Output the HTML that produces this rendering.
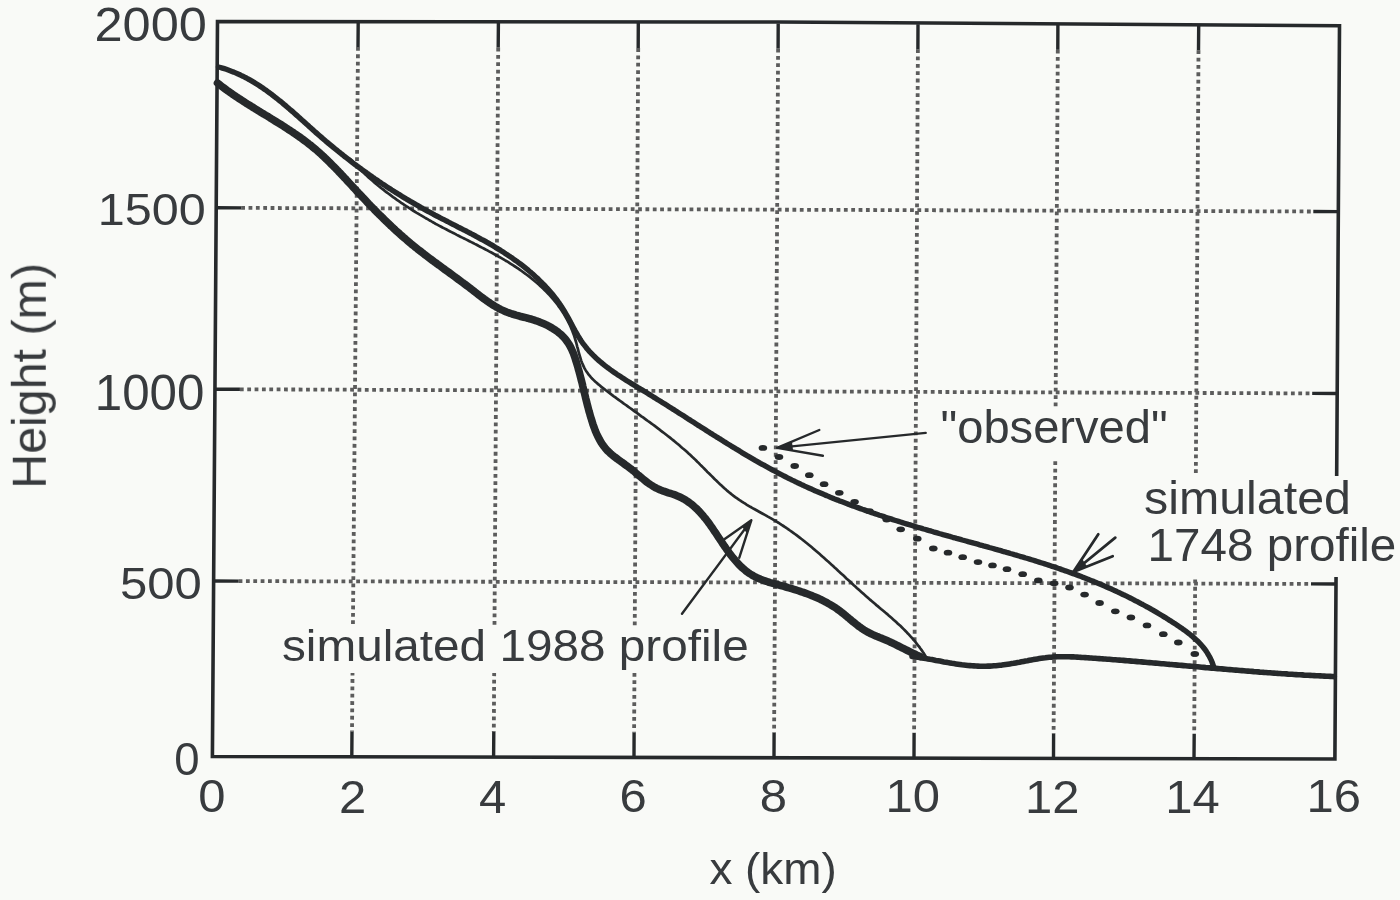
<!DOCTYPE html>
<html><head><meta charset="utf-8"><title>Height profile</title>
<style>html,body{margin:0;padding:0;background:#f9faf7;} svg{display:block;}</style></head>
<body><svg width="1400" height="900" viewBox="0 0 1400 900">
<rect width="1400" height="900" fill="#f9faf7"/>
<g filter="url(#soft)">
<path d="M358.0,47.0L352.0,731.8 M498.2,47.6L493.8,732.1 M638.2,48.1L634.1,732.4 M778.1,48.6L774.1,732.8 M917.9,49.2L914.1,733.1 M1057.8,49.7L1053.6,733.4 M1198.5,50.3L1194.2,733.7 M241.2,207.9L1313.3,211.5 M239.9,389.3L1312.2,393.4 M238.6,581.1L1311.0,583.9" fill="none" stroke="#5c5c5c" stroke-width="3.8" stroke-dasharray="3.8 3.55"/><path d="M358.2,22.0L358.0,47.0M351.8,756.8L352.0,731.8 M498.4,22.6L498.2,47.6M493.6,757.1L493.8,732.1 M638.3,23.1L638.2,48.1M634.0,757.4L634.1,732.4 M778.2,23.6L778.1,48.6M774.0,757.8L774.1,732.8 M918.0,24.2L917.9,49.2M914.0,758.1L914.1,733.1 M1057.9,24.7L1057.8,49.7M1053.5,758.4L1053.6,733.4 M1198.7,25.3L1198.5,50.3M1194.0,758.7L1194.2,733.7 M216.2,207.8L241.2,207.9M1338.3,211.6L1313.3,211.5 M214.9,389.2L239.9,389.3M1337.2,393.5L1312.2,393.4 M213.6,581.0L238.6,581.1M1336.0,584.0L1311.0,583.9" fill="none" stroke="#26292b" stroke-width="3.4"/><path d="M217.5,21.5 L778.2,22 L1339.5,25.8 L1334.9,759.0 L212.4,756.5 Z" fill="none" stroke="#26292b" stroke-width="3.6" stroke-linejoin="miter"/><path d="M350.0,159.0L351.4,160.5L352.7,161.9L354.1,163.4L355.5,164.8L356.9,166.2L358.3,167.6L359.7,169.0L361.1,170.4L362.5,171.8L364.0,173.1L365.4,174.5L366.9,175.8L368.3,177.2L369.8,178.5L371.3,179.8L372.8,181.1L374.3,182.4L375.8,183.7L377.4,184.9L378.9,186.2L380.4,187.4L382.0,188.7L383.6,189.9L385.1,191.1L386.7,192.3L388.3,193.5L389.9,194.7L391.5,195.9L393.1,197.1L394.7,198.2L396.3,199.4L398.0,200.5L399.6,201.7L401.2,202.8L402.9,203.9L404.6,205.0L406.2,206.1L407.9,207.2L409.6,208.3L411.3,209.4L412.9,210.5L414.6,211.5L416.3,212.6L418.1,213.6L419.8,214.7L421.5,215.7L423.2,216.7L424.9,217.7L426.7,218.7L428.4,219.7L430.2,220.7L431.9,221.7L433.7,222.7L435.4,223.7L437.2,224.6L439.0,225.6L440.7,226.5L442.5,227.5L444.3,228.4L446.1,229.3L447.9,230.3L449.7,231.2L451.5,232.1L453.3,233.0L455.1,233.9L456.8,234.9L458.6,235.8L460.4,236.7L462.3,237.6L464.1,238.5L465.9,239.4L467.7,240.3L469.5,241.2L471.3,242.1L473.1,243.0L474.8,243.9L476.6,244.8L478.4,245.8L480.2,246.7L482.0,247.6L483.8,248.5L485.6,249.5L487.4,250.4L489.1,251.4L490.9,252.3L492.7,253.3L494.4,254.2L496.2,255.2L497.9,256.2L499.7,257.2L501.4,258.2L503.1,259.2L504.8,260.2L506.6,261.2L508.3,262.2L510.0,263.3L511.7,264.4L513.3,265.4L515.0,266.5L516.7,267.6L518.3,268.7L520.0,269.9L521.6,271.0L523.2,272.2L524.8,273.3L526.4,274.5L528.0,275.7L529.6,276.9L531.2,278.2L532.7,279.4L534.3,280.7L535.8,282.0L537.3,283.2L538.8,284.6L540.2,285.9L541.7,287.2L543.1,288.6L544.5,290.0L545.9,291.4L547.3,292.8L548.7,294.2L550.0,295.7L551.3,297.2L552.6,298.7L553.9,300.2L555.1,301.7L556.4,303.2L557.6,304.8L558.7,306.4L559.9,308.0L561.0,309.6L562.1,311.3L563.2,312.9L564.2,314.6L565.2,316.3L566.2,318.1L567.2,319.8L568.1,321.6L569.0,323.4L569.9,325.2L570.7,327.0L571.5,328.9L572.3,330.8L573.0,332.7L573.7,334.6L574.4,336.5L575.0,338.5L575.6,340.5L576.2,342.5L576.7,344.5L577.2,346.6L577.8,348.6L578.3,350.6L578.8,352.7L579.4,354.7L580.0,356.7L580.6,358.6L581.2,360.6L581.9,362.5L582.7,364.3L583.5,366.1L584.3,367.9L585.3,369.6L586.3,371.2L587.4,372.8L588.5,374.4L589.8,375.9L591.0,377.3L592.3,378.7L593.7,380.1L595.1,381.5L596.6,382.8L598.1,384.1L599.6,385.3L601.1,386.6L602.7,387.8L604.3,389.0L605.8,390.3L607.4,391.5L609.0,392.7L610.6,393.9L612.2,395.1L613.8,396.3L615.4,397.4L617.0,398.6L618.7,399.8L620.3,401.0L621.9,402.2L623.5,403.4L625.1,404.5L626.8,405.7L628.4,406.9L630.0,408.0L631.7,409.2L633.3,410.4L634.9,411.6L636.5,412.7L638.2,413.9L639.8,415.1L641.4,416.3L643.1,417.4L644.7,418.6L646.3,419.8L647.9,421.0L649.6,422.2L651.2,423.3L652.8,424.5L654.4,425.7L656.0,426.9L657.6,428.1L659.2,429.3L660.8,430.6L662.4,431.8L664.0,433.0L665.6,434.2L667.2,435.5L668.7,436.7L670.3,437.9L671.9,439.2L673.4,440.4L675.0,441.7L676.5,443.0L678.1,444.3L679.6,445.6L681.1,446.9L682.6,448.2L684.2,449.5L685.7,450.8L687.1,452.1L688.6,453.5L690.1,454.8L691.6,456.2L693.0,457.6L694.5,458.9L695.9,460.3L697.3,461.7L698.8,463.1L700.2,464.6L701.6,466.0L703.0,467.4L704.4,468.8L705.8,470.2L707.2,471.7L708.6,473.1L710.1,474.5L711.5,475.9L712.9,477.3L714.3,478.7L715.7,480.1L717.2,481.5L718.6,482.9L720.0,484.3L721.5,485.6L723.0,487.0L724.4,488.3L725.9,489.6L727.4,490.9L729.0,492.2L730.5,493.4L732.1,494.7L733.6,495.9L735.2,497.1L736.8,498.2L738.5,499.4L740.1,500.5L741.8,501.6L743.5,502.7L745.2,503.7L746.9,504.8L748.6,505.8L750.3,506.8L752.1,507.8L753.8,508.8L755.6,509.8L757.4,510.8L759.1,511.7L760.9,512.7L762.7,513.7L764.4,514.6L766.2,515.6L767.9,516.6L769.7,517.6L771.5,518.6L773.2,519.6L774.9,520.6L776.6,521.7L778.4,522.7L780.1,523.8L781.7,524.9L783.4,526.0L785.1,527.1L786.7,528.2L788.4,529.3L790.0,530.5L791.6,531.6L793.3,532.8L794.9,534.0L796.5,535.2L798.1,536.4L799.7,537.6L801.2,538.8L802.8,540.0L804.4,541.3L805.9,542.5L807.5,543.8L809.0,545.0L810.6,546.3L812.1,547.6L813.6,548.9L815.2,550.2L816.7,551.5L818.2,552.8L819.7,554.1L821.2,555.4L822.7,556.8L824.2,558.1L825.7,559.4L827.2,560.8L828.7,562.1L830.2,563.4L831.6,564.8L833.1,566.1L834.6,567.5L836.1,568.8L837.6,570.2L839.0,571.6L840.5,572.9L842.0,574.3L843.5,575.6L845.0,577.0L846.4,578.4L847.9,579.7L849.4,581.1L850.9,582.5L852.3,583.8L853.8,585.2L855.3,586.5L856.8,587.9L858.3,589.2L859.8,590.6L861.3,591.9L862.8,593.2L864.3,594.6L865.8,595.9L867.3,597.2L868.8,598.6L870.3,599.9L871.9,601.2L873.4,602.5L874.9,603.8L876.4,605.1L878.0,606.4L879.5,607.7L881.0,609.0L882.6,610.3L884.1,611.5L885.6,612.8L887.2,614.1L888.7,615.5L890.2,616.8L891.7,618.1L893.2,619.4L894.7,620.7L896.2,622.1L897.6,623.4L899.1,624.8L900.6,626.1L902.0,627.5L903.4,628.9L904.8,630.3L906.2,631.7L907.6,633.2L909.0,634.6L910.3,636.1L911.7,637.6L913.0,639.1L914.3,640.6L915.6,642.1L916.8,643.7L918.0,645.3L919.3,646.9L920.4,648.5L921.6,650.1L922.7,651.8L923.9,653.5L924.9,655.2L926.0,657.0" fill="none" stroke="#26292b" stroke-width="2.7" stroke-linecap="round"/><path d="M217.5,83.0L219.1,84.2L220.6,85.5L222.2,86.7L223.8,87.9L225.4,89.1L227.0,90.3L228.6,91.4L230.3,92.6L231.9,93.7L233.5,94.9L235.2,96.0L236.9,97.1L238.5,98.2L240.2,99.3L241.9,100.4L243.6,101.5L245.3,102.6L247.0,103.7L248.7,104.7L250.4,105.8L252.1,106.9L253.8,107.9L255.5,109.0L257.2,110.0L258.9,111.1L260.7,112.2L262.4,113.2L264.1,114.3L265.8,115.3L267.6,116.3L269.3,117.4L271.0,118.5L272.7,119.5L274.4,120.6L276.1,121.6L277.9,122.7L279.6,123.7L281.3,124.8L283.0,125.9L284.7,127.0L286.4,128.1L288.0,129.2L289.7,130.3L291.4,131.4L293.1,132.5L294.7,133.6L296.4,134.7L298.0,135.9L299.6,137.0L301.3,138.2L302.9,139.4L304.5,140.6L306.1,141.8L307.7,143.0L309.2,144.2L310.8,145.4L312.3,146.7L313.9,148.0L315.4,149.2L316.9,150.5L318.4,151.8L319.9,153.2L321.4,154.5L322.8,155.9L324.3,157.2L325.7,158.6L327.2,160.0L328.6,161.4L330.0,162.8L331.4,164.2L332.8,165.6L334.2,167.0L335.6,168.4L337.0,169.9L338.4,171.3L339.8,172.8L341.2,174.2L342.5,175.7L343.9,177.2L345.3,178.6L346.6,180.1L348.0,181.6L349.3,183.0L350.7,184.5L352.1,186.0L353.4,187.5L354.8,188.9L356.2,190.4L357.5,191.9L358.9,193.4L360.3,194.8L361.6,196.3L363.0,197.7L364.4,199.2L365.8,200.7L367.1,202.1L368.5,203.6L369.9,205.0L371.3,206.5L372.7,207.9L374.1,209.3L375.5,210.8L376.9,212.2L378.3,213.6L379.7,215.0L381.2,216.4L382.6,217.8L384.0,219.2L385.4,220.6L386.9,222.0L388.3,223.4L389.8,224.8L391.2,226.2L392.7,227.5L394.1,228.9L395.6,230.3L397.1,231.6L398.6,232.9L400.1,234.3L401.6,235.6L403.0,236.9L404.6,238.2L406.1,239.5L407.6,240.8L409.1,242.1L410.6,243.4L412.2,244.7L413.7,245.9L415.3,247.2L416.8,248.4L418.4,249.7L420.0,250.9L421.6,252.1L423.1,253.3L424.7,254.6L426.3,255.8L427.9,257.0L429.5,258.2L431.1,259.4L432.7,260.6L434.3,261.8L435.9,262.9L437.5,264.1L439.2,265.3L440.8,266.5L442.4,267.7L444.0,268.9L445.6,270.1L447.3,271.2L448.9,272.4L450.5,273.6L452.1,274.8L453.7,276.0L455.4,277.2L457.0,278.4L458.6,279.6L460.2,280.8L461.8,282.0L463.5,283.2L465.1,284.4L466.7,285.6L468.3,286.8L469.9,288.0L471.5,289.3L473.1,290.5L474.7,291.8L476.3,293.0L477.9,294.2L479.5,295.5L481.1,296.7L482.7,297.9L484.3,299.1L485.9,300.2L487.5,301.4L489.2,302.5L490.8,303.6L492.5,304.7L494.2,305.8L495.9,306.8L497.6,307.7L499.3,308.7L501.1,309.6L502.9,310.4L504.7,311.2L506.5,312.0L508.4,312.7L510.2,313.3L512.1,314.0L514.0,314.5L516.0,315.1L517.9,315.6L519.8,316.2L521.8,316.7L523.8,317.2L525.7,317.7L527.7,318.2L529.7,318.8L531.7,319.3L533.6,319.9L535.6,320.6L537.5,321.2L539.4,321.9L541.3,322.7L543.2,323.5L545.1,324.3L546.9,325.2L548.7,326.1L550.5,327.1L552.2,328.1L553.9,329.2L555.6,330.3L557.2,331.4L558.7,332.7L560.2,333.9L561.7,335.2L563.1,336.6L564.4,338.0L565.7,339.5L566.8,341.1L568.0,342.7L569.0,344.3L570.0,346.0L570.9,347.8L571.8,349.6L572.6,351.5L573.4,353.3L574.1,355.2L574.8,357.2L575.4,359.1L576.0,361.0L576.6,363.0L577.2,364.9L577.8,366.9L578.3,368.8L578.9,370.8L579.4,372.7L579.9,374.7L580.4,376.6L580.9,378.5L581.4,380.5L581.9,382.4L582.4,384.4L582.8,386.3L583.3,388.3L583.8,390.2L584.2,392.1L584.7,394.1L585.2,396.0L585.6,397.9L586.1,399.9L586.6,401.8L587.1,403.8L587.6,405.7L588.1,407.6L588.6,409.6L589.1,411.5L589.7,413.4L590.2,415.4L590.8,417.3L591.4,419.2L592.0,421.2L592.6,423.1L593.2,425.0L593.9,426.9L594.6,428.8L595.3,430.7L596.1,432.6L596.9,434.4L597.8,436.2L598.7,438.0L599.6,439.8L600.6,441.5L601.6,443.2L602.7,444.8L603.9,446.4L605.1,447.9L606.4,449.4L607.7,450.9L609.2,452.3L610.6,453.6L612.1,454.9L613.7,456.2L615.3,457.4L616.9,458.6L618.5,459.8L620.2,461.0L621.8,462.2L623.5,463.4L625.1,464.6L626.8,465.8L628.4,467.0L630.0,468.2L631.6,469.4L633.2,470.7L634.7,472.0L636.2,473.3L637.7,474.6L639.2,475.8L640.8,477.1L642.3,478.4L643.8,479.6L645.3,480.9L646.9,482.1L648.4,483.2L650.1,484.4L651.7,485.4L653.4,486.5L655.1,487.5L656.9,488.4L658.7,489.2L660.5,490.0L662.5,490.8L664.4,491.4L666.4,492.1L668.4,492.8L670.4,493.4L672.3,494.0L674.3,494.7L676.2,495.4L678.1,496.2L679.9,497.0L681.7,497.9L683.4,498.8L685.1,499.8L686.8,500.9L688.4,502.0L690.0,503.1L691.5,504.3L693.0,505.5L694.4,506.8L695.9,508.1L697.3,509.4L698.6,510.8L700.0,512.2L701.3,513.7L702.6,515.2L703.8,516.7L705.1,518.2L706.3,519.7L707.5,521.3L708.7,522.9L709.9,524.5L711.0,526.2L712.2,527.8L713.3,529.5L714.4,531.2L715.6,532.8L716.7,534.5L717.8,536.2L718.9,537.9L720.1,539.6L721.2,541.3L722.3,543.0L723.5,544.7L724.6,546.4L725.8,548.0L726.9,549.7L728.1,551.3L729.3,553.0L730.5,554.6L731.7,556.2L733.0,557.8L734.3,559.3L735.6,560.8L736.9,562.3L738.2,563.8L739.6,565.2L741.0,566.6L742.4,567.9L743.9,569.2L745.4,570.5L746.9,571.7L748.5,572.8L750.1,573.9L751.7,574.9L753.4,575.9L755.2,576.8L756.9,577.7L758.8,578.5L760.6,579.3L762.5,580.0L764.4,580.7L766.3,581.3L768.2,582.0L770.2,582.6L772.1,583.1L774.1,583.7L776.1,584.3L778.1,584.8L780.0,585.3L782.0,585.9L784.0,586.4L786.0,587.0L787.9,587.6L789.9,588.1L791.8,588.7L793.8,589.3L795.7,589.9L797.6,590.5L799.5,591.1L801.5,591.8L803.4,592.4L805.2,593.1L807.1,593.8L809.0,594.5L810.9,595.2L812.7,596.0L814.5,596.7L816.4,597.5L818.2,598.3L820.0,599.1L821.8,600.0L823.5,600.9L825.3,601.8L827.0,602.7L828.7,603.7L830.5,604.7L832.1,605.7L833.8,606.8L835.5,607.8L837.1,609.0L838.7,610.1L840.3,611.3L841.9,612.6L843.5,613.8L845.1,615.1L846.6,616.4L848.2,617.7L849.7,619.0L851.3,620.3L852.8,621.6L854.4,622.8L856.0,624.1L857.6,625.4L859.2,626.6L860.8,627.7L862.4,628.9L864.1,630.0L865.8,631.0L867.5,632.0L869.3,632.9L871.0,633.8L872.8,634.6L874.7,635.4L876.5,636.2L878.3,636.9L880.2,637.7L882.0,638.4L883.9,639.2L885.7,640.0L887.6,640.8L889.4,641.6L891.2,642.5L893.0,643.3L894.8,644.2L896.6,645.1L898.4,646.0L900.2,646.9L902.0,647.8L903.8,648.7L905.6,649.6L907.4,650.5L909.2,651.4L911.0,652.3L912.8,653.2L914.6,654.0L916.4,654.9L918.2,655.7L920.0,656.5" fill="none" stroke="#26292b" stroke-width="7.6" stroke-linecap="round" stroke-linejoin="round"/><path d="M218.5,67.0L220.5,67.5L222.4,68.1L224.4,68.7L226.3,69.3L228.2,70.0L230.1,70.7L231.9,71.4L233.8,72.1L235.6,72.9L237.5,73.7L239.3,74.5L241.1,75.4L242.8,76.2L244.6,77.1L246.4,78.0L248.1,79.0L249.8,79.9L251.5,80.9L253.2,81.9L254.9,82.9L256.6,84.0L258.3,85.1L259.9,86.1L261.6,87.2L263.2,88.3L264.8,89.5L266.5,90.6L268.1,91.8L269.7,93.0L271.3,94.1L272.8,95.3L274.4,96.6L276.0,97.8L277.5,99.0L279.1,100.3L280.7,101.5L282.2,102.8L283.7,104.1L285.3,105.4L286.8,106.7L288.3,108.0L289.8,109.3L291.4,110.6L292.9,111.9L294.4,113.3L295.9,114.6L297.4,115.9L298.9,117.3L300.4,118.6L301.9,120.0L303.4,121.3L304.9,122.6L306.4,124.0L307.9,125.3L309.4,126.7L310.9,128.0L312.4,129.4L313.9,130.7L315.4,132.1L316.9,133.4L318.4,134.7L319.9,136.0L321.5,137.4L323.0,138.7L324.5,140.0L326.0,141.3L327.6,142.6L329.1,143.9L330.6,145.1L332.2,146.4L333.7,147.7L335.3,149.0L336.8,150.2L338.4,151.5L339.9,152.7L341.5,154.0L343.1,155.2L344.6,156.5L346.2,157.7L347.8,158.9L349.4,160.1L351.0,161.4L352.5,162.6L354.1,163.8L355.7,165.0L357.3,166.2L358.9,167.3L360.5,168.5L362.1,169.7L363.8,170.9L365.4,172.0L367.0,173.2L368.6,174.3L370.2,175.5L371.9,176.6L373.5,177.8L375.1,178.9L376.8,180.0L378.4,181.2L380.1,182.3L381.7,183.4L383.4,184.5L385.1,185.6L386.7,186.7L388.4,187.8L390.1,188.8L391.7,189.9L393.4,191.0L395.1,192.1L396.8,193.1L398.5,194.2L400.2,195.2L401.9,196.3L403.6,197.3L405.3,198.3L407.0,199.4L408.7,200.4L410.4,201.4L412.2,202.4L413.9,203.4L415.6,204.4L417.4,205.4L419.1,206.4L420.8,207.4L422.6,208.4L424.3,209.3L426.1,210.3L427.9,211.3L429.6,212.2L431.4,213.2L433.2,214.1L434.9,215.1L436.7,216.0L438.5,216.9L440.3,217.9L442.1,218.8L443.9,219.7L445.7,220.6L447.5,221.5L449.3,222.5L451.0,223.4L452.8,224.3L454.6,225.2L456.4,226.1L458.2,227.1L460.0,228.0L461.8,228.9L463.6,229.8L465.4,230.7L467.2,231.7L469.0,232.6L470.8,233.5L472.6,234.5L474.4,235.4L476.1,236.4L477.9,237.3L479.7,238.3L481.4,239.3L483.2,240.2L485.0,241.2L486.7,242.2L488.5,243.2L490.2,244.2L492.0,245.2L493.7,246.2L495.4,247.3L497.1,248.3L498.9,249.4L500.6,250.4L502.3,251.5L504.0,252.6L505.6,253.7L507.3,254.8L509.0,255.9L510.6,257.0L512.3,258.1L513.9,259.3L515.5,260.5L517.2,261.6L518.8,262.8L520.4,264.0L522.0,265.2L523.5,266.4L525.1,267.7L526.6,268.9L528.2,270.2L529.7,271.5L531.2,272.7L532.7,274.0L534.2,275.4L535.6,276.7L537.1,278.0L538.5,279.4L539.9,280.8L541.3,282.2L542.7,283.6L544.1,285.0L545.5,286.4L546.8,287.9L548.1,289.3L549.4,290.8L550.7,292.3L552.0,293.8L553.2,295.3L554.5,296.9L555.7,298.5L556.9,300.0L558.0,301.6L559.2,303.2L560.3,304.9L561.4,306.5L562.5,308.2L563.6,309.9L564.6,311.6L565.6,313.3L566.6,315.0L567.6,316.8L568.6,318.6L569.5,320.3L570.5,322.1L571.4,323.9L572.4,325.7L573.3,327.4L574.3,329.2L575.2,331.0L576.2,332.7L577.2,334.4L578.2,336.2L579.3,337.8L580.3,339.5L581.4,341.2L582.5,342.8L583.7,344.4L584.9,345.9L586.1,347.5L587.3,349.0L588.6,350.4L589.9,351.9L591.3,353.3L592.6,354.7L594.0,356.1L595.4,357.4L596.8,358.8L598.3,360.1L599.8,361.4L601.3,362.6L602.8,363.9L604.3,365.1L605.9,366.3L607.4,367.5L609.0,368.7L610.6,369.9L612.2,371.0L613.9,372.2L615.5,373.3L617.1,374.4L618.8,375.5L620.5,376.6L622.2,377.7L623.9,378.8L625.6,379.9L627.3,381.0L629.0,382.0L630.7,383.1L632.4,384.1L634.2,385.2L635.9,386.2L637.6,387.3L639.4,388.3L641.1,389.4L642.8,390.4L644.6,391.5L646.3,392.5L648.0,393.6L649.7,394.6L651.5,395.7L653.2,396.8L654.9,397.8L656.6,398.9L658.3,400.0L660.0,401.0L661.7,402.1L663.5,403.2L665.2,404.2L666.9,405.3L668.6,406.4L670.3,407.5L672.0,408.6L673.7,409.6L675.4,410.7L677.1,411.8L678.8,412.9L680.5,414.0L682.2,415.0L683.9,416.1L685.6,417.2L687.2,418.3L688.9,419.4L690.6,420.4L692.3,421.5L694.0,422.6L695.7,423.7L697.4,424.8L699.1,425.8L700.8,426.9L702.5,428.0L704.2,429.1L705.8,430.1L707.5,431.2L709.2,432.3L710.9,433.4L712.6,434.4L714.3,435.5L716.0,436.6L717.7,437.6L719.4,438.7L721.1,439.7L722.8,440.8L724.5,441.9L726.2,442.9L727.9,444.0L729.6,445.0L731.3,446.1L733.0,447.1L734.7,448.1L736.4,449.2L738.1,450.2L739.8,451.2L741.5,452.3L743.2,453.3L744.9,454.3L746.6,455.3L748.4,456.3L750.1,457.3L751.8,458.3L753.5,459.3L755.2,460.3L757.0,461.3L758.7,462.3L760.4,463.3L762.2,464.3L763.9,465.2L765.6,466.2L767.4,467.2L769.1,468.1L770.9,469.1L772.6,470.0L774.4,471.0L776.1,471.9L777.9,472.8L779.7,473.8L781.4,474.7L783.2,475.6L785.0,476.5L786.7,477.4L788.5,478.3L790.3,479.2L792.1,480.1L793.9,480.9L795.7,481.8L797.5,482.7L799.3,483.5L801.1,484.4L802.9,485.2L804.7,486.1L806.5,486.9L808.3,487.7L810.1,488.5L812.0,489.3L813.8,490.2L815.6,491.0L817.5,491.7L819.3,492.5L821.1,493.3L823.0,494.1L824.8,494.9L826.7,495.6L828.5,496.4L830.4,497.2L832.2,497.9L834.1,498.7L835.9,499.4L837.8,500.1L839.7,500.9L841.5,501.6L843.4,502.3L845.3,503.0L847.2,503.7L849.0,504.5L850.9,505.2L852.8,505.9L854.7,506.5L856.6,507.2L858.5,507.9L860.4,508.6L862.3,509.3L864.2,509.9L866.1,510.6L868.0,511.3L869.9,511.9L871.8,512.6L873.7,513.2L875.6,513.9L877.5,514.5L879.4,515.2L881.3,515.8L883.2,516.4L885.1,517.1L887.0,517.7L889.0,518.3L890.9,518.9L892.8,519.6L894.7,520.2L896.6,520.8L898.6,521.4L900.5,522.0L902.4,522.6L904.3,523.2L906.3,523.8L908.2,524.4L910.1,524.9L912.0,525.5L914.0,526.1L915.9,526.7L917.8,527.3L919.8,527.8L921.7,528.4L923.6,529.0L925.6,529.5L927.5,530.1L929.4,530.7L931.4,531.2L933.3,531.8L935.2,532.3L937.2,532.9L939.1,533.5L941.0,534.0L943.0,534.6L944.9,535.1L946.8,535.6L948.8,536.2L950.7,536.7L952.6,537.3L954.6,537.8L956.5,538.4L958.4,538.9L960.4,539.4L962.3,540.0L964.2,540.5L966.1,541.0L968.1,541.6L970.0,542.1L971.9,542.6L973.9,543.2L975.8,543.7L977.7,544.2L979.7,544.8L981.6,545.3L983.5,545.9L985.4,546.4L987.4,546.9L989.3,547.5L991.2,548.0L993.1,548.5L995.1,549.1L997.0,549.6L998.9,550.2L1000.8,550.7L1002.8,551.3L1004.7,551.8L1006.6,552.4L1008.5,552.9L1010.4,553.5L1012.3,554.0L1014.3,554.6L1016.2,555.1L1018.1,555.7L1020.0,556.3L1021.9,556.8L1023.8,557.4L1025.7,558.0L1027.6,558.5L1029.6,559.1L1031.5,559.7L1033.4,560.3L1035.3,560.9L1037.2,561.5L1039.1,562.1L1041.0,562.7L1042.9,563.3L1044.8,563.9L1046.7,564.5L1048.6,565.1L1050.5,565.7L1052.3,566.4L1054.2,567.0L1056.1,567.6L1058.0,568.3L1059.9,568.9L1061.8,569.6L1063.7,570.2L1065.5,570.9L1067.4,571.5L1069.3,572.2L1071.2,572.9L1073.1,573.6L1074.9,574.2L1076.8,574.9L1078.7,575.6L1080.5,576.3L1082.4,577.1L1084.3,577.8L1086.1,578.5L1088.0,579.2L1089.8,580.0L1091.7,580.7L1093.6,581.4L1095.4,582.2L1097.3,583.0L1099.1,583.7L1101.0,584.5L1102.8,585.3L1104.6,586.1L1106.5,586.9L1108.3,587.7L1110.2,588.5L1112.0,589.3L1113.8,590.2L1115.7,591.0L1117.5,591.9L1119.3,592.7L1121.1,593.6L1122.9,594.5L1124.8,595.3L1126.6,596.2L1128.4,597.1L1130.2,598.0L1132.0,598.9L1133.8,599.8L1135.6,600.8L1137.4,601.7L1139.1,602.6L1140.9,603.6L1142.7,604.5L1144.5,605.5L1146.2,606.5L1148.0,607.4L1149.8,608.4L1151.5,609.4L1153.3,610.4L1155.0,611.4L1156.7,612.4L1158.5,613.5L1160.2,614.5L1161.9,615.5L1163.7,616.6L1165.4,617.6L1167.1,618.7L1168.8,619.8L1170.5,620.8L1172.2,621.9L1173.8,623.0L1175.5,624.1L1177.2,625.2L1178.9,626.4L1180.5,627.5L1182.2,628.6L1183.8,629.8L1185.4,630.9L1187.0,632.1L1188.6,633.3L1190.1,634.5L1191.7,635.8L1193.2,637.1L1194.6,638.4L1196.1,639.7L1197.5,641.0L1198.9,642.4L1200.2,643.8L1201.5,645.3L1202.8,646.8L1204.0,648.3L1205.2,649.8L1206.3,651.4L1207.4,653.1L1208.4,654.8L1209.4,656.5L1210.3,658.3L1211.2,660.1L1212.0,662.0L1212.7,664.0L1213.4,666.0L1214.0,668.0" fill="none" stroke="#26292b" stroke-width="5.4" stroke-linecap="round" stroke-linejoin="round"/><path d="M912.0,656.5L914.0,656.7L916.0,657.0L917.9,657.3L919.9,657.6L921.9,657.9L923.9,658.2L925.9,658.6L927.9,658.9L929.9,659.3L931.9,659.6L933.9,660.0L935.9,660.4L937.9,660.7L939.9,661.1L941.9,661.5L943.9,661.9L945.9,662.2L947.9,662.6L949.9,662.9L951.9,663.3L953.9,663.6L955.9,663.9L957.9,664.2L959.9,664.5L961.9,664.8L963.9,665.0L965.9,665.2L967.9,665.5L969.9,665.6L971.9,665.8L973.9,665.9L975.9,666.0L977.9,666.1L979.9,666.2L981.9,666.2L983.9,666.2L985.9,666.2L987.9,666.1L989.9,666.1L991.8,666.0L993.8,665.8L995.8,665.7L997.8,665.5L999.8,665.3L1001.8,665.1L1003.8,664.8L1005.7,664.5L1007.7,664.2L1009.7,663.9L1011.7,663.6L1013.6,663.3L1015.6,662.9L1017.6,662.5L1019.6,662.2L1021.5,661.8L1023.5,661.4L1025.5,661.0L1027.5,660.7L1029.4,660.3L1031.4,659.9L1033.4,659.6L1035.4,659.2L1037.4,658.9L1039.3,658.6L1041.3,658.3L1043.3,658.0L1045.3,657.8L1047.3,657.5L1049.3,657.3L1051.2,657.2L1053.2,657.0L1055.2,656.9L1057.2,656.8L1059.2,656.8L1061.2,656.7L1063.2,656.7L1065.2,656.7L1067.2,656.8L1069.2,656.8L1071.2,656.9L1073.2,656.9L1075.2,657.0L1077.2,657.1L1079.2,657.2L1081.2,657.4L1083.2,657.5L1085.3,657.6L1087.3,657.7L1089.3,657.9L1091.3,658.0L1093.3,658.2L1095.3,658.3L1097.3,658.5L1099.3,658.6L1101.3,658.7L1103.3,658.9L1105.3,659.0L1107.3,659.2L1109.3,659.3L1111.3,659.5L1113.3,659.7L1115.4,659.8L1117.4,660.0L1119.4,660.1L1121.4,660.3L1123.4,660.4L1125.4,660.6L1127.4,660.8L1129.4,660.9L1131.4,661.1L1133.4,661.3L1135.4,661.4L1137.4,661.6L1139.4,661.8L1141.5,661.9L1143.5,662.1L1145.5,662.3L1147.5,662.5L1149.5,662.6L1151.5,662.8L1153.5,663.0L1155.5,663.1L1157.5,663.3L1159.5,663.5L1161.5,663.7L1163.5,663.8L1165.5,664.0L1167.6,664.2L1169.6,664.4L1171.6,664.5L1173.6,664.7L1175.6,664.9L1177.6,665.1L1179.6,665.3L1181.6,665.4L1183.6,665.6L1185.6,665.8L1187.6,666.0L1189.6,666.1L1191.7,666.3L1193.7,666.5L1195.7,666.7L1197.7,666.8L1199.7,667.0L1201.7,667.2L1203.7,667.4L1205.7,667.6L1207.7,667.7L1209.7,667.9L1211.7,668.1L1213.7,668.3L1215.8,668.4L1217.8,668.6L1219.8,668.8L1221.8,668.9L1223.8,669.1L1225.8,669.3L1227.8,669.5L1229.8,669.6L1231.8,669.8L1233.8,670.0L1235.8,670.1L1237.8,670.3L1239.9,670.5L1241.9,670.6L1243.9,670.8L1245.9,671.0L1247.9,671.1L1249.9,671.3L1251.9,671.4L1253.9,671.6L1255.9,671.7L1257.9,671.9L1259.9,672.1L1262.0,672.2L1264.0,672.4L1266.0,672.5L1268.0,672.7L1270.0,672.8L1272.0,673.0L1274.0,673.1L1276.0,673.2L1278.0,673.4L1280.0,673.5L1282.1,673.7L1284.1,673.8L1286.1,673.9L1288.1,674.1L1290.1,674.2L1292.1,674.3L1294.1,674.5L1296.1,674.6L1298.1,674.7L1300.1,674.8L1302.1,674.9L1304.2,675.1L1306.2,675.2L1308.2,675.3L1310.2,675.4L1312.2,675.5L1314.2,675.6L1316.2,675.7L1318.2,675.8L1320.2,675.9L1322.2,676.0L1324.3,676.1L1326.3,676.2L1328.3,676.3L1330.3,676.4L1332.3,676.5L1334.3,676.6" fill="none" stroke="#26292b" stroke-width="5.6" stroke-linecap="round" stroke-linejoin="round"/><g fill="#26292b"><ellipse cx="762.9" cy="447.9" rx="4.3" ry="2.9"/><ellipse cx="779.0" cy="457.0" rx="4.3" ry="2.9"/><ellipse cx="794.7" cy="466.0" rx="4.3" ry="2.9"/><ellipse cx="809.3" cy="475.2" rx="4.3" ry="2.9"/><ellipse cx="824.1" cy="484.2" rx="4.3" ry="2.9"/><ellipse cx="839.3" cy="492.8" rx="4.3" ry="2.9"/><ellipse cx="854.6" cy="501.8" rx="4.3" ry="2.9"/><ellipse cx="869.5" cy="511.2" rx="4.3" ry="2.9"/><ellipse cx="886.7" cy="519.5" rx="4.3" ry="2.9"/><ellipse cx="900.7" cy="529.3" rx="4.3" ry="2.9"/><ellipse cx="917.3" cy="538.7" rx="4.3" ry="2.9"/><ellipse cx="933.3" cy="548.5" rx="4.3" ry="2.9"/><ellipse cx="948.0" cy="552.7" rx="4.3" ry="2.9"/><ellipse cx="962.7" cy="557.2" rx="4.3" ry="2.9"/><ellipse cx="978.0" cy="562.1" rx="4.3" ry="2.9"/><ellipse cx="992.5" cy="565.4" rx="4.3" ry="2.9"/><ellipse cx="1007.0" cy="569.2" rx="4.3" ry="2.9"/><ellipse cx="1022.7" cy="574.2" rx="4.3" ry="2.9"/><ellipse cx="1038.3" cy="580.4" rx="4.3" ry="2.9"/><ellipse cx="1054.0" cy="583.3" rx="4.3" ry="2.9"/><ellipse cx="1069.5" cy="587.5" rx="4.3" ry="2.9"/><ellipse cx="1084.6" cy="594.6" rx="4.3" ry="2.9"/><ellipse cx="1099.6" cy="603.0" rx="4.3" ry="2.9"/><ellipse cx="1115.3" cy="611.3" rx="4.3" ry="2.9"/><ellipse cx="1130.9" cy="617.5" rx="4.3" ry="2.9"/><ellipse cx="1147.0" cy="625.4" rx="4.3" ry="2.9"/><ellipse cx="1163.3" cy="634.2" rx="4.3" ry="2.9"/><ellipse cx="1178.3" cy="642.5" rx="4.3" ry="2.9"/><ellipse cx="1194.8" cy="653.9" rx="4.3" ry="2.9"/></g><rect x="932" y="407" width="243" height="51" fill="#f9faf7"/><rect x="1140" y="476" width="260" height="101" fill="#f9faf7"/><rect x="278" y="626" width="474" height="47" fill="#f9faf7"/><path d="M925.7,432.9 L777.1,447.9 M819.3,430 L777.1,447.9 L822.9,455.7" fill="none" stroke="#26292b" stroke-width="2.4" stroke-linecap="round" stroke-linejoin="round"/><path d="M777.1,447.9 L791.9,441.6 L793.1,450.6 Z" fill="#26292b"/><path d="M682,613.7 L751.3,520.3 M724.7,539 L751.3,520.3 L739.3,557.7" fill="none" stroke="#26292b" stroke-width="2.4" stroke-linecap="round" stroke-linejoin="round"/><path d="M751.3,520.3 L742.0,526.8 L747.1,533.4 Z" fill="#26292b"/><path d="M1115.3,537.7 L1073.3,572 M1098.3,534.3 L1073.3,572 L1112.7,556.3" fill="none" stroke="#26292b" stroke-width="2.8" stroke-linecap="round" stroke-linejoin="round"/><path d="M1073.3,572 L1082.0,558.8 L1087.1,566.5 Z" fill="#26292b"/>
<g font-family="Liberation Sans, Arial, sans-serif" font-size="100" fill="#383b3e"><text transform="matrix(0.5055 0 0 0.4741 94.47 40.53)" >2000</text><text transform="matrix(0.4853 0 0 0.4373 97.68 224.86)" >1500</text><text transform="matrix(0.4929 0 0 0.4953 94.72 409.50)" >1000</text><text transform="matrix(0.4906 0 0 0.4528 120.04 599.05)" >500</text><text transform="matrix(0.4552 0 0 0.4642 174.28 775.14)" >0</text><text transform="matrix(0.4900 0 0 0.4650 198.36 812.33)">0</text><text transform="matrix(0.4900 0 0 0.4650 339.06 812.80)">2</text><text transform="matrix(0.4900 0 0 0.4650 479.03 812.80)">4</text><text transform="matrix(0.4900 0 0 0.4650 619.50 812.33)">6</text><text transform="matrix(0.4900 0 0 0.4650 759.86 812.33)">8</text><text transform="matrix(0.4900 0 0 0.4650 885.58 812.33)">10</text><text transform="matrix(0.4900 0 0 0.4650 1025.07 812.80)">12</text><text transform="matrix(0.4900 0 0 0.4650 1165.33 812.80)">14</text><text transform="matrix(0.4900 0 0 0.4650 1306.49 812.33)">16</text><text transform="matrix(0.4589 0 0 0.4500 709.39 884.00)" >x (km)</text><text transform="matrix(0.4712 0 0 0.4555 940.46 442.90)" >&quot;observed&quot;</text><text transform="matrix(0.4839 0 0 0.4638 1143.95 514.00)" >simulated</text><text transform="matrix(0.4762 0 0 0.4596 1147.55 561.30)" >1748 profile</text><text transform="matrix(0.4772 0 0 0.4349 281.97 660.50)" >simulated 1988 profile</text><text transform="matrix(0 -0.4837 0.4858 0 46.00 488.73)">Height (m)</text></g>
</g>
<defs><filter id="soft" x="0" y="0" width="1" height="1" color-interpolation-filters="sRGB"><feGaussianBlur stdDeviation="0.7"/></filter></defs>
</svg></body></html>
